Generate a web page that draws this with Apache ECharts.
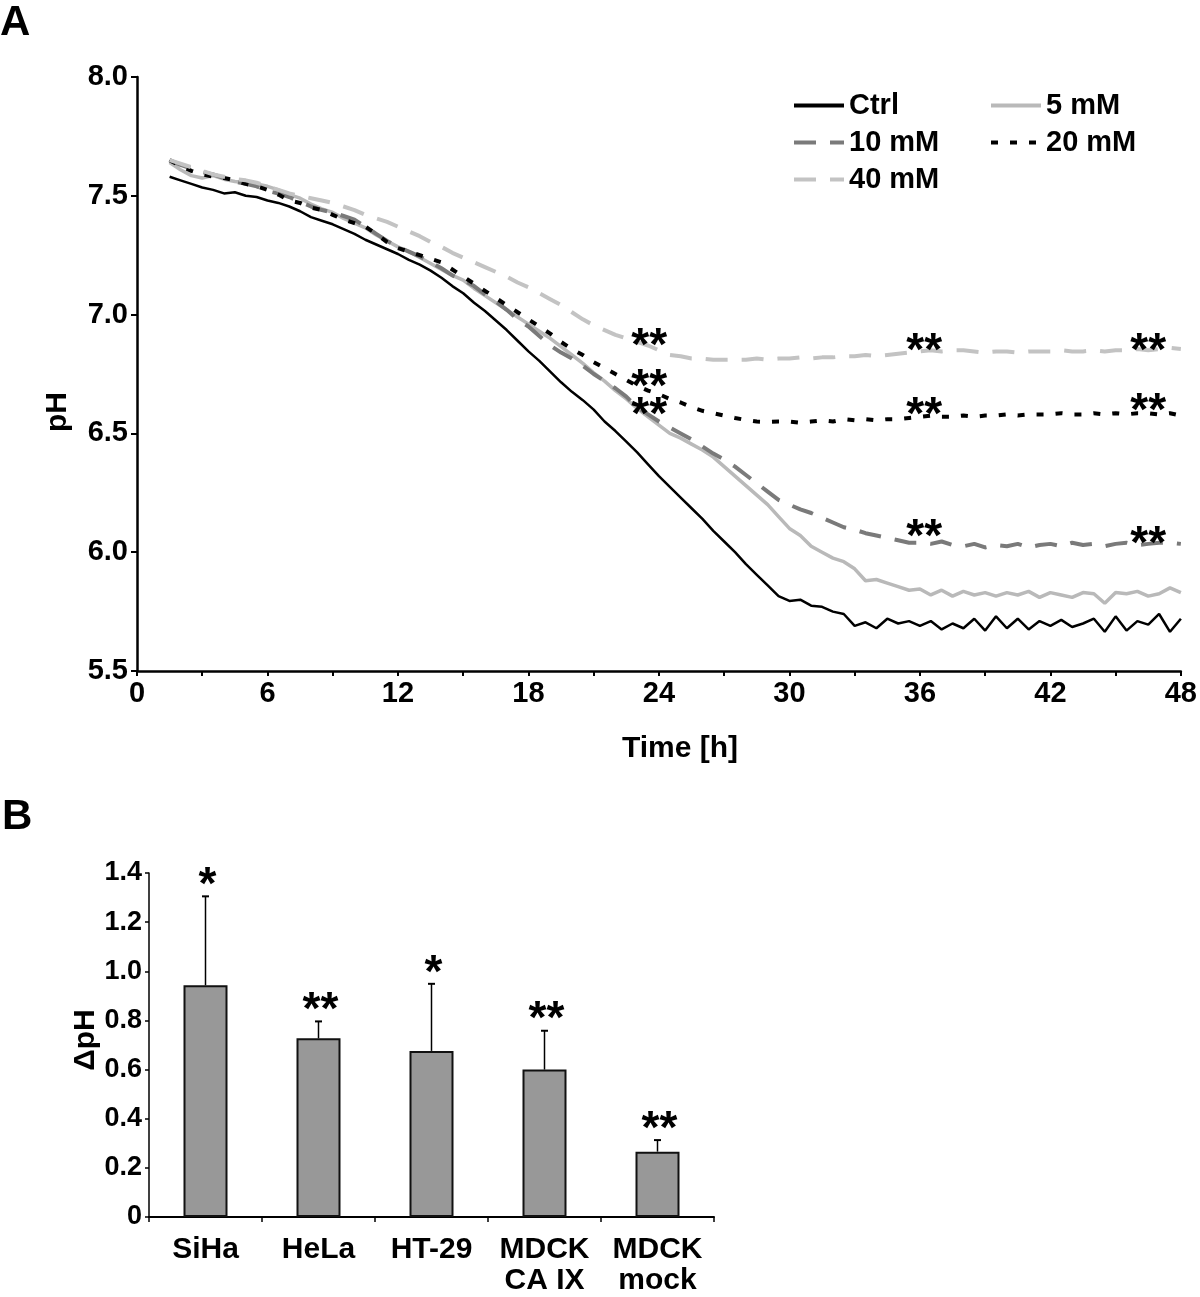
<!DOCTYPE html>
<html>
<head>
<meta charset="utf-8">
<script src="https://cdn.jsdelivr.net/npm/echarts@6/dist/echarts.min.js"></script>
<style>
html,body{margin:0;padding:0;background:#fff;}
#chart{width:1200px;height:1297px;}
</style>
</head>
<body>
<div id="chart"></div>
<script>
// ---------- Panel A data ----------
const times = [
  1.5,2,2.5,3,3.5,4,4.5,5,5.5,6,
  6.5,7,7.5,8,8.5,9,9.5,10,10.5,11,
  11.5,12,12.5,13,13.5,14,14.5,15,15.5,16,
  16.5,17,17.5,18,18.5,19,19.5,20,20.5,21,
  21.5,22,22.5,23,23.5,24,24.5,25,25.5,26,
  26.5,27,27.5,28,28.5,29,29.5,30,30.5,31,
  31.5,32,32.5,33,33.5,34,34.5,35,35.5,36,
  36.5,37,37.5,38,38.5,39,39.5,40,40.5,41,
  41.5,42,42.5,43,43.5,44,44.5,45,45.5,46,
  46.5,47,47.5,48
];
const ctrl = [
  7.58,7.565,7.55,7.535,7.525,7.51,7.515,7.50,7.495,7.48,
  7.47,7.455,7.435,7.41,7.395,7.38,7.36,7.34,7.315,7.295,
  7.275,7.255,7.23,7.21,7.185,7.155,7.12,7.09,7.05,7.015,
  6.975,6.935,6.89,6.845,6.805,6.76,6.715,6.675,6.64,6.60,
  6.55,6.51,6.465,6.42,6.37,6.32,6.275,6.23,6.185,6.14,
  6.09,6.045,6.00,5.95,5.905,5.86,5.815,5.795,5.80,5.775,
  5.77,5.75,5.74,5.69,5.705,5.68,5.72,5.70,5.71,5.69,
  5.71,5.675,5.70,5.68,5.72,5.67,5.73,5.68,5.72,5.675,
  5.71,5.69,5.715,5.685,5.70,5.72,5.665,5.73,5.67,5.71,
  5.695,5.74,5.665,5.72
];
const mM5 = [
  7.64,7.61,7.585,7.575,7.585,7.57,7.56,7.555,7.55,7.54,
  7.525,7.505,7.49,7.465,7.445,7.43,7.405,7.385,7.365,7.335,
  7.31,7.285,7.265,7.24,7.215,7.19,7.165,7.145,7.11,7.08,
  7.05,7.02,6.99,6.96,6.93,6.90,6.865,6.83,6.795,6.755,
  6.72,6.68,6.645,6.605,6.57,6.535,6.50,6.48,6.455,6.43,
  6.40,6.36,6.32,6.28,6.24,6.20,6.15,6.10,6.07,6.025,
  6.00,5.975,5.96,5.93,5.88,5.885,5.87,5.855,5.84,5.845,
  5.82,5.84,5.815,5.835,5.82,5.83,5.815,5.83,5.82,5.835,
  5.81,5.83,5.82,5.81,5.83,5.825,5.785,5.83,5.825,5.835,
  5.815,5.825,5.85,5.83
];
const mM10 = [
  7.65,7.63,7.615,7.60,7.59,7.575,7.56,7.55,7.54,7.52,
  7.51,7.495,7.475,7.455,7.44,7.43,7.415,7.40,7.37,7.34,
  7.31,7.285,7.265,7.245,7.22,7.195,7.165,7.145,7.12,7.085,
  7.055,7.02,6.98,6.95,6.91,6.87,6.84,6.815,6.785,6.75,
  6.72,6.69,6.655,6.61,6.58,6.55,6.525,6.50,6.475,6.445,
  6.415,6.39,6.36,6.325,6.29,6.255,6.22,6.20,6.18,6.165,
  6.145,6.125,6.105,6.095,6.08,6.07,6.06,6.05,6.04,6.04,
  6.035,6.045,6.03,6.025,6.035,6.02,6.03,6.025,6.035,6.02,
  6.03,6.035,6.025,6.04,6.03,6.035,6.025,6.035,6.04,6.03,
  6.035,6.04,6.04,6.035
];
const mM20 = [
  7.65,7.625,7.605,7.59,7.58,7.575,7.565,7.55,7.54,7.525,
  7.505,7.48,7.47,7.45,7.44,7.42,7.40,7.385,7.37,7.34,
  7.305,7.28,7.265,7.25,7.235,7.22,7.19,7.16,7.13,7.10,
  7.07,7.04,7.01,6.98,6.95,6.92,6.885,6.855,6.83,6.80,
  6.775,6.75,6.725,6.70,6.68,6.665,6.645,6.63,6.61,6.595,
  6.585,6.575,6.565,6.556,6.55,6.548,6.55,6.55,6.545,6.55,
  6.555,6.55,6.56,6.555,6.56,6.555,6.56,6.56,6.565,6.57,
  6.575,6.57,6.57,6.575,6.57,6.575,6.575,6.58,6.575,6.58,
  6.58,6.58,6.585,6.58,6.58,6.585,6.58,6.585,6.58,6.585,
  6.585,6.58,6.585,6.575
];
const mM40 = [
  7.65,7.635,7.62,7.605,7.59,7.58,7.57,7.565,7.555,7.54,
  7.525,7.51,7.50,7.49,7.48,7.47,7.455,7.44,7.42,7.405,
  7.39,7.37,7.35,7.33,7.305,7.285,7.26,7.24,7.22,7.20,
  7.18,7.16,7.135,7.115,7.09,7.065,7.04,7.01,6.98,6.955,
  6.935,6.915,6.90,6.885,6.87,6.85,6.83,6.825,6.815,6.815,
  6.81,6.81,6.81,6.81,6.815,6.81,6.815,6.815,6.82,6.815,
  6.82,6.82,6.825,6.825,6.83,6.825,6.83,6.835,6.84,6.845,
  6.85,6.845,6.85,6.85,6.845,6.84,6.845,6.845,6.84,6.845,
  6.845,6.845,6.85,6.845,6.845,6.85,6.845,6.85,6.85,6.855,
  6.85,6.855,6.86,6.855
];
const seriesNamesA = ['Ctrl', '5 mM', '10 mM', '20 mM', '40 mM'];
const xTicksA = [0, 6, 12, 18, 24, 30, 36, 42, 48];
const yTicksA = [5.5, 6.0, 6.5, 7.0, 7.5, 8.0];

// significance marks in panel A (time [h], pH)
const starX = [23.55, 23.55, 23.55, 36.2, 36.2, 36.2, 46.5, 46.5, 46.5];
const starY = [6.906, 6.733, 6.615, 6.885, 6.615, 6.10, 6.885, 6.632, 6.07];
const starText = ['**', '**', '**', '**', '**', '**', '**', '**', '**'];

// ---------- Panel B data ----------
const cellLines = ['SiHa', 'HeLa', 'HT-29', 'MDCK\nCA IX', 'MDCK\nmock'];
const deltaPH = [0.943, 0.727, 0.676, 0.600, 0.266];
const deltaPHErr = [0.362, 0.069, 0.273, 0.158, 0.047];
const sigB = ['*', '**', '*', '**', '**'];
const yTicksB = [0, 0.2, 0.4, 0.6, 0.8, 1.0, 1.2, 1.4];

// ---------- styling ----------
const FONT = "'Liberation Sans', Arial, Helvetica, sans-serif";
const lineStyles = [
  { color: '#000000', width: 2.5, type: 'solid' },
  { color: '#b9b9b9', width: 3.5, type: 'solid' },
  { color: '#7a7a7a', width: 4, type: [22, 14] },
  { color: '#000000', width: 4, type: [7, 12] },
  { color: '#c3c3c3', width: 4, type: [22, 14] }
];
const seriesDataA = [ctrl, mM5, mM10, mM20, mM40];

const chart = echarts.init(document.getElementById('chart'), null, { renderer: 'canvas' });

const lineSeries = seriesDataA.map((arr, k) => ({
  name: seriesNamesA[k],
  type: 'line',
  xAxisIndex: 0,
  yAxisIndex: 0,
  symbol: 'none',
  showSymbol: false,
  smooth: false,
  animation: false,
  color: lineStyles[k].color,
  lineStyle: { color: lineStyles[k].color, width: lineStyles[k].width, type: lineStyles[k].type },
  data: times.map((t, i) => [t, arr[i]]),
  z: 2 + k
}));

const axisText = { color: '#000', fontFamily: FONT, fontWeight: 'bold' };
const legendCommon = {
  orient: 'vertical',
  top: 86,
  itemWidth: 50, itemHeight: 22, itemGap: 8,
  selectedMode: false,
  itemStyle: { opacity: 0 },
  lineStyle: { width: 4 },
  textStyle: Object.assign({}, axisText, { fontSize: 29, lineHeight: 22 })
};

const option = {
  backgroundColor: '#ffffff',
  animation: false,
  textStyle: { fontFamily: FONT },
  grid: [
    { left: 137, top: 77, width: 1048, height: 594 },
    { left: 149, top: 873, width: 565, height: 344 }
  ],
  legend: [
    Object.assign({ data: ['Ctrl', '10 mM', '40 mM'], left: 787 }, legendCommon),
    Object.assign({ data: ['5 mM', '20 mM'], left: 984 }, legendCommon)
  ],
  xAxis: [
    {
      type: 'value', gridIndex: 0, min: 0, max: 48, interval: 3,
      axisLine: { show: true, onZero: false, lineStyle: { color: '#000', width: 2.5 } },
      axisTick: { show: true, inside: false, length: 5, lineStyle: { color: '#000', width: 2 } },
      axisLabel: Object.assign({}, axisText, {
        fontSize: 29, margin: 8,
        formatter: v => (xTicksA.indexOf(v) >= 0 ? String(v) : '')
      }),
      splitLine: { show: false }
    },
    {
      type: 'category', gridIndex: 1, data: cellLines,
      axisLine: { show: true, lineStyle: { color: '#000', width: 2 } },
      axisTick: { show: true, alignWithLabel: false, length: 5, lineStyle: { color: '#000', width: 1.5 } },
      axisLabel: Object.assign({}, axisText, { fontSize: 30, lineHeight: 31, margin: 17, interval: 0 }),
      splitLine: { show: false }
    }
  ],
  yAxis: [
    {
      type: 'value', gridIndex: 0, min: 5.5, max: 8.0, interval: 0.5,
      axisLine: { show: true, onZero: false, lineStyle: { color: '#000', width: 2.5 } },
      axisTick: { show: true, inside: false, length: 6, lineStyle: { color: '#000', width: 2 } },
      axisLabel: Object.assign({}, axisText, {
        fontSize: 29, margin: 9,
        formatter: v => (yTicksA.some(t => Math.abs(t - v) < 1e-9) ? v.toFixed(1) : '')
      }),
      splitLine: { show: false }
    },
    {
      type: 'value', gridIndex: 1, min: 0, max: 1.4, interval: 0.2,
      axisLine: { show: true, onZero: false, lineStyle: { color: '#000', width: 1.5 } },
      axisTick: { show: true, inside: false, length: 4, lineStyle: { color: '#000', width: 1.5 } },
      axisLabel: Object.assign({}, axisText, {
        fontSize: 27, margin: 7,
        formatter: v => {
          const t = yTicksB.find(x => Math.abs(x - v) < 1e-9);
          if (t === undefined) return '';
          return t === 0 ? '0' : t.toFixed(1);
        }
      }),
      splitLine: { show: false }
    }
  ],
  series: lineSeries.concat([
    {
      name: 'stars A',
      type: 'custom',
      xAxisIndex: 0, yAxisIndex: 0,
      silent: true,
      z: 10,
      data: starX.map((x, i) => [x, starY[i]]),
      renderItem: function (params, api) {
        const p = api.coord([api.value(0), api.value(1)]);
        return {
          type: 'text',
          style: { text: starText[params.dataIndex], x: p[0], y: p[1] + 10, align: 'center', verticalAlign: 'middle',
                   fill: '#000', font: 'bold 46px ' + FONT }
        };
      }
    },
    {
      name: 'ΔpH',
      type: 'bar',
      xAxisIndex: 1, yAxisIndex: 1,
      barWidth: 44,
      data: deltaPH,
      itemStyle: { color: '#989898', borderColor: '#111111', borderWidth: 2 },
      z: 2
    },
    {
      name: 'error',
      type: 'custom',
      xAxisIndex: 1, yAxisIndex: 1,
      data: deltaPH.map((v, i) => [i, v, v + deltaPHErr[i]]),
      encode: { x: 0, y: 2 },
      z: 3,
      silent: true,
      renderItem: function (params, api) {
        const idx = params.dataIndex;
        const base = api.coord([api.value(0), api.value(1)]);
        const top = api.coord([api.value(0), api.value(2)]);
        return {
          type: 'group',
          children: [
            { type: 'line', shape: { x1: base[0], y1: base[1], x2: top[0], y2: top[1] },
              style: { stroke: '#000', lineWidth: 1.5 } },
            { type: 'line', shape: { x1: top[0] - 3.5, y1: top[1], x2: top[0] + 3.5, y2: top[1] },
              style: { stroke: '#000', lineWidth: 2 } },
            { type: 'text',
              style: { text: sigB[idx], x: top[0] + 2, y: top[1] - 10, align: 'center', verticalAlign: 'middle',
                       fill: '#000', font: 'bold 46px ' + FONT } }
          ]
        };
      }
    }
  ]),
  graphic: [
    { type: 'text', left: 0, top: 2, style: { text: 'A', fill: '#000', font: 'bold 42px ' + FONT } },
    { type: 'text', left: 2, top: 796, style: { text: 'B', fill: '#000', font: 'bold 42px ' + FONT } },
    { type: 'text', x: 680, y: 749, style: { text: 'Time [h]', fill: '#000', align: 'center', verticalAlign: 'middle', font: 'bold 30px ' + FONT } },
    { type: 'text', x: 58, y: 412, rotation: Math.PI / 2, style: { text: 'pH', fill: '#000', align: 'center', verticalAlign: 'middle', font: 'bold 30px ' + FONT } },
    { type: 'text', x: 86, y: 1040, rotation: Math.PI / 2, style: { text: 'ΔpH', fill: '#000', align: 'center', verticalAlign: 'middle', font: 'bold 30px ' + FONT } }
  ]
};

chart.setOption(option);
</script>
</body>
</html>
